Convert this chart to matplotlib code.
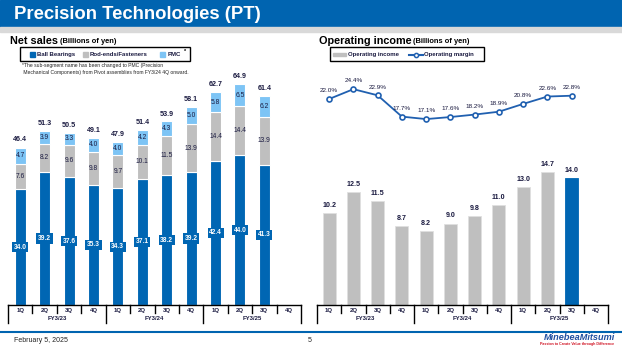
import matplotlib.pyplot as plt
from matplotlib.patches import Rectangle
from matplotlib.lines import Line2D

plt.rcParams["font.family"] = ["Liberation Sans", "DejaVu Sans"]

quarters = ["1Q", "2Q", "3Q", "4Q"] * 3
years = ["FY3/23", "FY3/24", "FY3/25"]

ball_bearings = [34.0, 39.2, 37.6, 35.3, 34.3, 37.1, 38.2, 39.2, 42.4, 44.0, 41.3]
rod_ends = [7.6, 8.2, 9.6, 9.8, 9.7, 10.1, 11.5, 13.9, 14.4, 14.4, 13.9]
pmc = [4.7, 3.9, 3.3, 4.0, 4.0, 4.2, 4.3, 5.0, 5.8, 6.5, 6.2]
net_sales = [46.4, 51.3, 50.5, 49.1, 47.9, 51.4, 53.9, 58.1, 62.7, 64.9, 61.4]

op_income = [10.2, 12.5, 11.5, 8.7, 8.2, 9.0, 9.8, 11.0, 13.0, 14.7, 14.0]
op_margin = [22.0, 24.4, 22.9, 17.7, 17.1, 17.6, 18.2, 18.9, 20.8, 22.6, 22.8]

BLUE = "#0066B3"
GRAY = "#BFBFBF"
LBLUE = "#7DC4F5"
NAVY = "#1A1A40"
LINE = "#2060B0"

W, H = 622, 350


def fx(x):
    return x / W


def fy(y):
    return 1 - y / H


fig = plt.figure(figsize=(6.22, 3.5), dpi=100)

# header bar
fig.patches.append(Rectangle((0, fy(27)), 1, 27 / H, transform=fig.transFigure,
                             color="#0064B0", zorder=0))
fig.patches.append(Rectangle((0, fy(32)), 1, 5 / H, transform=fig.transFigure,
                             color="#D9D9D9", zorder=0))
fig.text(fx(14), fy(14.5), "Precision Technologies (PT)", color="white",
         fontsize=13.3, fontweight="bold", va="center", ha="left")

# footer
fig.add_artist(Line2D([0, 1], [fy(332), fy(332)], transform=fig.transFigure,
                      color="#0064B0", lw=1.5))
fig.text(fx(14), fy(341), "February 5, 2025", fontsize=5, va="center", color="#222222")
fig.text(fx(310), fy(341), "5", fontsize=5, va="center", ha="center", color="#222222")
fig.text(fx(615), fy(337.5), "MinebeaMitsumi", fontsize=6.6, fontweight="bold",
         fontstyle="italic", color="#1F4FA0", ha="right", va="center")
fig.text(fx(614), fy(343.5), "Passion to Create Value through Difference",
         fontsize=2.6, fontweight="bold", color="#D01020", ha="right", va="center")


def section_title(x, main):
    t = fig.text(fx(x), fy(41), main, fontsize=7.8, fontweight="bold", va="center")
    fig.canvas.draw()
    bb = t.get_window_extent()
    fig.text(bb.x1 / fig.bbox.width + 0.003, fy(41.5), "(Billions of yen)",
             fontsize=5.4, fontweight="bold", va="center")


section_title(10, "Net sales")
section_title(319, "Operating income")


def legend_box(x0, x1):
    fig.patches.append(Rectangle((fx(x0), fy(61)), (x1 - x0) / W, 14 / H,
                                 transform=fig.transFigure, fill=False,
                                 ec="black", lw=1.0))


def quarter_axis(ax):
    n = len(quarters)
    tr = ax.get_xaxis_transform()
    for i in range(n + 1):
        xs = i - 0.5
        depth = -0.075 if i % 4 == 0 else -0.035
        ax.plot([xs, xs], [0, depth], transform=tr, color="black", lw=1.0,
                clip_on=False)
    for i, q in enumerate(quarters):
        ax.text(i, -0.022, q, transform=tr, ha="center", va="center",
                fontsize=4.3, fontweight="bold", color=NAVY)
    for j, yr in enumerate(years):
        ax.text(j * 4 + 1.5, -0.058, yr, transform=tr, ha="center", va="center",
                fontsize=4.3, fontweight="bold", color=NAVY)
    ax.set_xlim(-0.5, n - 0.5)
    ax.set_xticks([])
    ax.set_yticks([])
    for s in ["top", "right", "left"]:
        ax.spines[s].set_visible(False)
    ax.spines["bottom"].set_linewidth(1.0)


# ---------- net sales ----------
ax1 = fig.add_axes([fx(8), fy(305), (301 - 8) / W, (305 - 70) / H])
x = list(range(len(ball_bearings)))
bw = 0.45
bottom2 = ball_bearings
bottom3 = [a + b for a, b in zip(ball_bearings, rod_ends)]
ax1.bar(x, ball_bearings, bw, color=BLUE, edgecolor="white", lw=0.8)
ax1.bar(x, rod_ends, bw, bottom=bottom2, color=GRAY, edgecolor="white", lw=0.8)
ax1.bar(x, pmc, bw, bottom=bottom3, color=LBLUE, edgecolor="white", lw=0.8)
ax1.set_ylim(0, 235 / 3.4)
for i in x:
    ax1.text(i, ball_bearings[i] / 2, f"{ball_bearings[i]:.1f}", ha="center",
             va="center", fontsize=4.8, fontweight="bold", color="white",
             bbox=dict(boxstyle="square,pad=0.25", fc=BLUE, ec="none"))
    ax1.text(i, bottom2[i] + rod_ends[i] / 2, f"{rod_ends[i]:.1f}", ha="center",
             va="center", fontsize=4.8, color=NAVY)
    ax1.text(i, bottom3[i] + pmc[i] / 2, f"{pmc[i]:.1f}", ha="center",
             va="center", fontsize=4.8, color=NAVY)
    ax1.text(i, net_sales[i] + 1.2, f"{net_sales[i]:.1f}", ha="center",
             va="bottom", fontsize=5.1, fontweight="bold", color=NAVY)
quarter_axis(ax1)

legend_box(20, 190)
items = [(32, BLUE, "Ball Bearings"), (85, GRAY, "Rod-ends/Fasteners"),
         (163, LBLUE, "PMC")]
for px, c, lab in items:
    fig.patches.append(Rectangle((fx(px - 2.5), fy(56.5)), 5 / W, 5 / H,
                                 transform=fig.transFigure, color=c))
    fig.text(fx(px + 5), fy(54.5), lab, fontsize=4.3, fontweight="bold",
             va="center", color=NAVY)
fig.text(fx(183.5), fy(51), "*", fontsize=4, fontweight="bold", va="center")
fig.text(fx(22), fy(69), "*The sub-segment name has been changed to PMC (Precision\n"
         " Mechanical Components) from Pivot assemblies from FY3/24 4Q onward.",
         fontsize=3.6, va="center", linespacing=1.3, color="#222222")

# ---------- operating income ----------
ax2 = fig.add_axes([fx(317), fy(305), (608 - 317) / W, (305 - 70) / H])
colors = [GRAY] * (len(op_income) - 1) + [BLUE]
ax2.bar(range(len(op_income)), op_income, 0.53, color=colors,
        edgecolor=["#E0E0E0"] * (len(op_income) - 1) + [BLUE], lw=0.6)
ax2.set_ylim(0, 235 / 9.05)
for i, v in enumerate(op_income):
    ax2.text(i, v + 0.45, f"{v:.1f}", ha="center", va="bottom", fontsize=5.1,
             fontweight="bold", color=NAVY)
quarter_axis(ax2)

ax3 = ax2.twinx()
ax3.set_ylim(22.0 - 206 / 4.1, 22.0 - 206 / 4.1 + 235 / 4.1)
ax3.plot(range(len(op_margin)), op_margin, color=LINE, lw=1.3, marker="o",
         markersize=3.6, markerfacecolor="white", markeredgecolor=LINE,
         markeredgewidth=1.2)
for i, v in enumerate(op_margin):
    ax3.text(i, v + 1.4, f"{v:.1f}%", ha="center", va="bottom", fontsize=4.6,
             color=NAVY)
ax3.axis("off")

legend_box(330, 484)
fig.patches.append(Rectangle((fx(333), fy(56)), 13 / W, 3.5 / H,
                             transform=fig.transFigure, color=GRAY))
fig.text(fx(348), fy(54.5), "Operating income", fontsize=4.3, fontweight="bold",
         va="center", color=NAVY)
fig.add_artist(Line2D([fx(409), fx(423)], [fy(54.5), fy(54.5)],
                      transform=fig.transFigure, color=LINE, lw=1.5))
fig.add_artist(Line2D([fx(416)], [fy(54.5)], transform=fig.transFigure,
                      color=LINE, marker="o", markersize=3, markerfacecolor="white",
                      markeredgewidth=1.1))
fig.text(fx(424), fy(54.5), "Operating margin", fontsize=4.3, fontweight="bold",
         va="center", color=NAVY)

fig.savefig("out.png", dpi=100)
